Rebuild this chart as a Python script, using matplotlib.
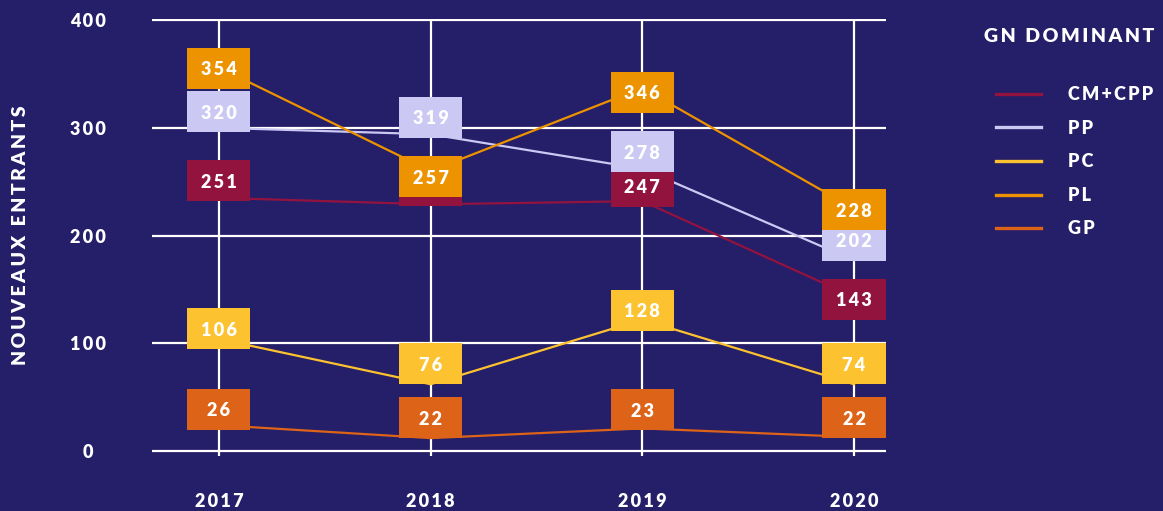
import matplotlib
matplotlib.use('Agg')
import matplotlib.pyplot as plt
from matplotlib.offsetbox import DrawingArea, AnnotationBbox
from matplotlib.patches import Rectangle
from matplotlib.text import Text

plt.rcParams['font.family'] = ['Lato', 'DejaVu Sans']
plt.rcParams['font.weight'] = 'heavy'

years = [2017, 2018, 2019, 2020]
series = ['CM+CPP', 'PP', 'PC', 'PL', 'GP']

# numbers printed in the boxes
cm_cpp = [251, 246, 247, 143]
pp = [320, 319, 278, 202]
pc = [106, 76, 128, 74]
pl = [354, 257, 346, 228]
gp = [26, 22, 23, 22]

# where the lines sit in the original (they don't run through the labels)
cm_cpp_line = [235, 229, 232, 143]
pp_line = [300, 294, 262, 177]
pc_line = [104, 62, 122, 62]
pl_line = [356, 260, 337, 225]
gp_line = [24, 12, 21, 13]

y_ticks = [0, 100, 200, 300, 400]

labels = {'CM+CPP': cm_cpp, 'PP': pp, 'PC': pc, 'PL': pl, 'GP': gp}
lines = {'CM+CPP': cm_cpp_line, 'PP': pp_line, 'PC': pc_line, 'PL': pl_line, 'GP': gp_line}

colors = {'CM+CPP': '#93133f', 'PP': '#cbc8f3', 'PC': '#fdc230',
          'PL': '#ed9300', 'GP': '#dc6317'}
box_z = {'CM+CPP': 5, 'PP': 6, 'PC': 5, 'PL': 7, 'GP': 5}
# vertical nudge of the label boxes, in points
nudge = {'CM+CPP': [0, 0, -1, -1.5],
         'PP': [-4, -7, 0, -5],
         'PC': [6, 4, 2, 5.5],
         'PL': [1, -2, -10, -3],
         'GP': [10, 7, 12, 7]}
# CM+CPP 2018 sits fully under the PL box, its number can't be seen
covered = {('CM+CPP', 2018)}

bg = '#251e69'
SP = '\u2009'


def spaced(s):
    # the original uses tracked capitals
    return SP.join(s)


fig = plt.figure(figsize=(11.63, 5.11), dpi=100, facecolor=bg)
ax = fig.add_axes([0.1307, 0.1068, 0.6311, 0.856], facecolor=bg)

handles = []
for name in series:
    h, = ax.plot(years, lines[name], color=colors[name], lw=1.6, zorder=3, label=spaced(name))
    handles.append(h)

box_w, box_h = 45.5, 29.5
for name in series:
    for yr, v, dy in zip(years, labels[name], nudge[name]):
        da = DrawingArea(box_w, box_h, 0, 0)
        da.add_artist(Rectangle((0, 0), box_w, box_h, fc=colors[name], ec='none'))
        if (name, yr) not in covered:
            da.add_artist(Text(box_w / 2, box_h / 2, spaced(str(v)), color='white', ha='center',
                               va='center_baseline', fontsize=13, fontweight='heavy'))
        ab = AnnotationBbox(da, (yr, v), xybox=(0, dy), boxcoords='offset points',
                            frameon=False, pad=0, zorder=box_z[name])
        ax.add_artist(ab)

ax.set_xlim(2016.684, 2020.151)
ax.set_ylim(-5, 401)
ax.set_xticks(years)
ax.set_xticklabels([spaced(str(y)) for y in years])
ax.set_yticks(y_ticks)
ax.set_yticklabels([spaced(str(t)) for t in y_ticks])
ax.grid(color='white', lw=1.6, zorder=1)
ax.set_axisbelow(True)
for s in ax.spines.values():
    s.set_visible(False)
ax.tick_params(axis='y', length=0, pad=46, labelcolor='white', labelsize=13)
ax.tick_params(axis='x', length=0, pad=26, labelcolor='white', labelsize=13)
for t in ax.get_yticklabels():
    t.set_ha('center')

fig.text(21 / 1163, 1 - 235 / 511, spaced('NOUVEAUX ENTRANTS'), rotation=90, ha='center',
         va='center', color='white', fontsize=14, fontweight='heavy')
fig.text(1069.5 / 1163, 1 - 37 / 511, spaced('GN DOMINANT'), ha='center', va='center',
         color='white', fontsize=14, fontweight='heavy')

leg = ax.legend(handles=handles, loc='upper left', bbox_to_anchor=(996 / 1163, 1 - 86 / 511),
                bbox_transform=fig.transFigure, frameon=False, borderpad=0, borderaxespad=0,
                handlelength=2.5, handletextpad=1.5, labelspacing=0.92,
                prop={'size': 13, 'weight': 'heavy'}, labelcolor='white')
for h in leg.legend_handles:
    h.set_linewidth(2.4)

fig.savefig('out.png', dpi=100, facecolor=bg)
